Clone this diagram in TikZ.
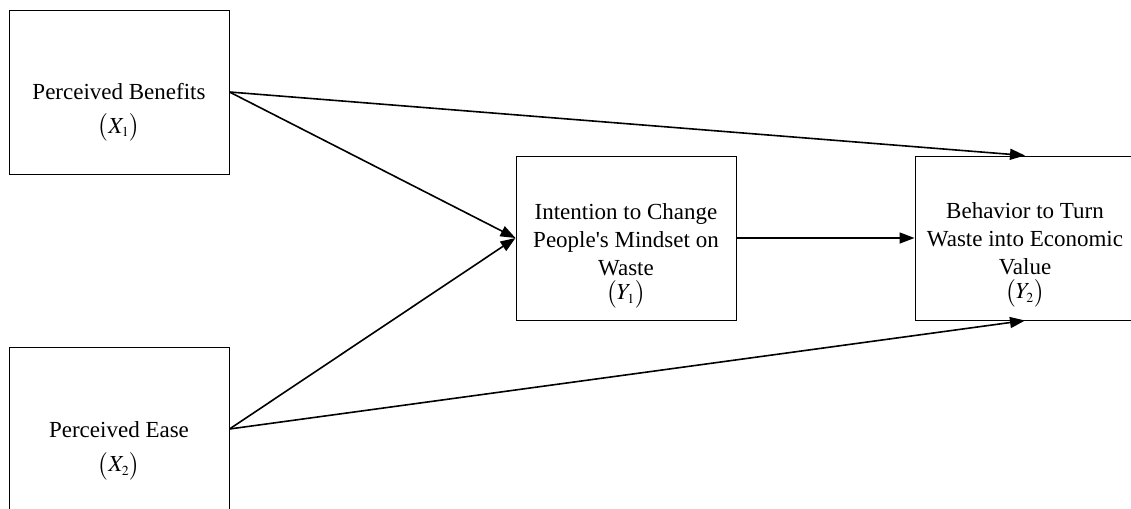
\documentclass[tikz,border=0pt]{standalone}
\usepackage{mathptmx}
\usepackage{fontspec}
\setmainfont{Liberation Serif}
\usetikzlibrary{arrows.meta}

\begin{document}
\begin{tikzpicture}[x=0.5pt, y=-0.5pt,
    box/.style={rectangle, draw, line width=0.5pt, minimum width=110pt, minimum height=82pt, inner sep=0pt},
    lbl/.style={align=center, inner sep=0pt, font=\fontsize{11.5}{14}\selectfont},
    link/.style={-{Triangle[length=7.5pt,width=5.5pt]}, line width=0.8pt}]
    \clip (0,0) rectangle (1131,509);
    % Boxes
    \node[box] (x1) at (119,92) {};
    \node[box] (x2) at (119,429) {};
    \node[box] (y1) at (626,238) {};
    \node[box] (y2) at (1025,238) {};

    % Labels
    \node[lbl] (x1t) at (119,112) {Perceived Benefits\\[3pt] $\bigl(X_{\scriptscriptstyle 1}\bigr)$};
    \node[lbl] (x2t) at (119,451) {Perceived Ease\\[3pt] $\bigl(X_{\scriptscriptstyle 2}\bigr)$};
    \node[lbl] (y1t) at (626,256) {Intention to Change\\People\textquotesingle s Mindset on\\Waste\\[-2pt] $\bigl(Y_{\scriptscriptstyle 1}\bigr)$};
    \node[lbl] (y2t) at (1025,255) {Behavior to Turn\\Waste into Economic\\Value\\[-2pt] $\bigl(Y_{\scriptscriptstyle 2}\bigr)$};

    % Paths
    \draw[link] (x1.east) -- (y1.west);
    \draw[link] (x2.east) -- (y1.west);
    \draw[link] (x1.east) -- (y2.north);
    \draw[link] (x2.east) -- (y2.south);
    \draw[link] (y1.east) -- (y2.west);
\end{tikzpicture}
\end{document}
